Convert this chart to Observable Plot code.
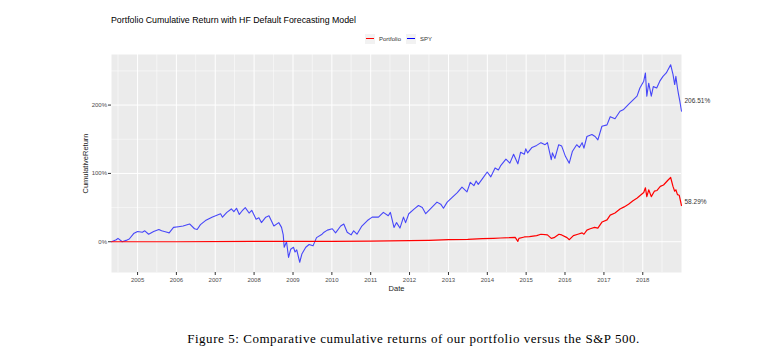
<!DOCTYPE html>
<html>
<head>
<meta charset="utf-8">
<script src="https://cdn.jsdelivr.net/npm/d3@7"></script>
<script src="https://cdn.jsdelivr.net/npm/@observablehq/plot@0.6"></script>
<style>
  body { margin: 0; background: #fff; }
  #wrap { position: relative; width: 775px; height: 357px; font-family: "Liberation Sans", Arial, sans-serif; overflow: hidden; }
  #wrap svg { position: absolute; left: 0; top: 0; }
  #title { position: absolute; left: 111px; top: 15px; font-size: 8.8px; color: #000; white-space: nowrap; }
  #legend { position: absolute; left: 365px; top: 33px; height: 11px; display: flex; align-items: center; font-size: 6px; color: #333; white-space: nowrap; }
  .key { width: 10px; height: 10px; background: #F2F2F2; position: relative; margin-right: 4px; }
  .key span { position: absolute; left: 1px; right: 1px; top: 4.5px; height: 1px; }
  .item { display: flex; align-items: center; margin-right: 5px; }
  #caption { position: absolute; left: 26px; top: 331px; width: 775px; text-align: center; font-family: "Liberation Serif", "Times New Roman", serif; font-size: 13px; letter-spacing: 0.55px; color: #000; white-space: nowrap; }
</style>
</head>
<body>
<div id="wrap">
  <div id="title"></div>
  <div id="legend"></div>
  <div id="caption"></div>
</div>
<script>
const titleText = "Portfolio Cumulative Return with HF Default Forecasting Model";
const captionText = "Figure 5: Comparative cumulative returns of our portfolio versus the S&P 500.";
const seriesNames = ["Portfolio", "SPY"];
const seriesColors = ["#FF0000", "#0000FF"];

const yMajor = [0, 1, 2];
const yMinor = [-0.5, 0.5, 1.5, 2.5];
const xYears = [2005, 2006, 2007, 2008, 2009, 2010, 2011, 2012, 2013, 2014, 2015, 2016, 2017, 2018];
const xMinorYears = [2004, 2005, 2006, 2007, 2008, 2009, 2010, 2011, 2012, 2013, 2014, 2015, 2016, 2017, 2018];

const spyDates = [
"2004-05-01","2004-06-15","2004-07-01","2004-08-10","2004-09-15","2004-10-15","2004-11-25","2005-01-01","2005-02-15","2005-03-10",
"2005-04-15","2005-06-01","2005-07-20","2005-08-15","2005-10-05","2005-10-25","2005-12-05","2006-01-20","2006-03-05","2006-05-05",
"2006-06-20","2006-07-15","2006-08-15","2006-10-01","2006-12-01","2007-02-20","2007-03-10","2007-04-20","2007-06-01","2007-06-25",
"2007-07-20","2007-08-15","2007-09-10","2007-10-10","2007-11-15","2007-12-10","2008-01-20","2008-02-15","2008-03-10","2008-04-20",
"2008-05-20","2008-07-05","2008-08-20","2008-09-15","2008-10-01","2008-10-10","2008-11-01","2008-11-20","2008-12-10","2009-01-05",
"2009-01-20","2009-02-05","2009-03-05","2009-03-25","2009-05-01","2009-06-01","2009-07-08","2009-08-10","2009-10-01","2009-10-20",
"2009-11-20","2010-01-05","2010-02-05","2010-03-25","2010-04-23","2010-05-25","2010-07-01","2010-07-25","2010-08-25","2010-10-10",
"2010-12-01","2011-01-15","2011-03-15","2011-04-30","2011-06-15","2011-07-05","2011-08-08","2011-09-01","2011-10-03","2011-11-05",
"2011-11-25","2011-12-25","2012-02-15","2012-03-25","2012-04-30","2012-06-01","2012-07-15","2012-09-15","2012-10-20","2012-11-15",
"2012-12-20","2013-02-05","2013-03-25","2013-05-08","2013-06-24","2013-07-25","2013-08-28","2013-09-18","2013-10-08","2013-11-15",
"2013-12-31","2014-02-03","2014-03-15","2014-04-15","2014-05-05","2014-06-25","2014-08-01","2014-09-05","2014-10-15","2014-11-10",
"2014-12-15","2014-12-28","2015-01-15","2015-02-25","2015-04-10","2015-05-20","2015-06-28","2015-07-20","2015-08-25","2015-09-05",
"2015-09-28","2015-11-03","2015-12-01","2015-12-15","2016-01-05","2016-02-10","2016-03-10","2016-04-20","2016-05-15","2016-06-10",
"2016-06-27","2016-07-25","2016-09-10","2016-10-10","2016-11-05","2016-12-13","2017-01-30","2017-03-01","2017-04-15","2017-06-01",
"2017-07-01","2017-08-20","2017-10-05","2017-11-08","2017-12-05","2018-01-10","2018-01-26","2018-02-08","2018-02-26","2018-03-22",
"2018-04-10","2018-05-12","2018-06-10","2018-07-10","2018-08-10","2018-09-20","2018-10-12","2018-10-28","2018-11-08","2018-11-23",
"2018-12-04","2018-12-15","2018-12-31"
];
const spyValues = [
0.00,0.03,0.05,0.00,0.02,0.04,0.12,0.15,0.14,0.16,
0.11,0.15,0.18,0.16,0.14,0.13,0.21,0.22,0.23,0.26,
0.19,0.18,0.25,0.31,0.36,0.41,0.36,0.43,0.48,0.44,
0.49,0.40,0.45,0.50,0.42,0.46,0.33,0.35,0.28,0.36,
0.38,0.23,0.28,0.21,0.10,-0.08,0.00,-0.23,-0.11,-0.08,
-0.15,-0.12,-0.30,-0.18,-0.08,-0.04,-0.06,0.06,0.11,0.14,
0.17,0.19,0.13,0.23,0.26,0.14,0.10,0.16,0.11,0.23,
0.31,0.36,0.36,0.43,0.38,0.43,0.21,0.28,0.20,0.36,
0.28,0.41,0.48,0.53,0.50,0.41,0.48,0.58,0.55,0.49,
0.58,0.65,0.72,0.80,0.73,0.87,0.82,0.89,0.84,0.92,
1.02,0.95,1.08,1.05,1.11,1.21,1.15,1.28,1.14,1.31,
1.28,1.36,1.30,1.38,1.41,1.45,1.42,1.45,1.20,1.30,
1.22,1.42,1.40,1.34,1.25,1.15,1.32,1.42,1.38,1.45,
1.37,1.54,1.57,1.54,1.49,1.69,1.71,1.83,1.80,1.91,
1.93,2.01,2.08,2.13,2.25,2.35,2.47,2.13,2.32,2.13,
2.27,2.25,2.35,2.42,2.47,2.59,2.45,2.30,2.42,2.25,
2.15,2.06,1.91
];

const portDates = [
"2004-05-01","2006-01-01","2008-01-01","2010-01-01","2011-01-01","2012-01-01","2012-07-01","2013-01-01","2013-07-01","2013-11-15",
"2014-03-01","2014-05-05","2014-08-01","2014-09-20","2014-10-15","2014-10-25","2014-12-15","2015-02-01","2015-04-10","2015-05-20",
"2015-07-20","2015-08-25","2015-09-20","2015-11-05","2015-12-01","2016-01-20","2016-02-11","2016-03-20","2016-05-01","2016-06-10",
"2016-06-27","2016-07-25","2016-08-25","2016-10-05","2016-11-05","2016-12-15","2017-01-30","2017-03-01","2017-04-15","2017-06-01",
"2017-07-10","2017-08-20","2017-10-01","2017-11-10","2017-12-10","2018-01-10","2018-01-26","2018-02-08","2018-02-26","2018-03-22",
"2018-04-20","2018-05-15","2018-06-15","2018-07-15","2018-08-25","2018-09-20","2018-10-12","2018-10-28","2018-11-08","2018-11-23",
"2018-12-10","2018-12-31"
];
const portValues = [
0.000,0.000,0.005,0.005,0.010,0.015,0.020,0.030,0.035,0.045,
0.050,0.055,0.060,0.065,0.005,0.050,0.070,0.075,0.090,0.110,
0.100,0.050,0.060,0.110,0.100,0.060,0.030,0.090,0.110,0.130,
0.110,0.170,0.190,0.210,0.200,0.290,0.320,0.390,0.420,0.480,
0.510,0.550,0.600,0.640,0.680,0.720,0.790,0.660,0.760,0.660,
0.740,0.750,0.810,0.830,0.900,0.940,0.810,0.740,0.760,0.690,
0.680,0.530
];

const endValues = [0.5829, 2.0651];
const endDate = "2018-12-31";

// build tables
const data = [
  ...portDates.map((d, i) => ({date: new Date(d), value: portValues[i], series: seriesNames[0]})),
  ...spyDates.map((d, i) => ({date: new Date(d), value: spyValues[i], series: seriesNames[1]}))
];
const ends = endValues.map((v, i) => ({date: new Date(endDate), value: v, series: seriesNames[i]}));
const xMajor = xYears.map(y => new Date(Date.UTC(y, 0, 1)));
const xMinor = xMinorYears.map(y => new Date(Date.UTC(y, 6, 1)));
const pct = d3.format(".0%");

const chart = Plot.plot({
  width: 775,
  height: 357,
  marginLeft: 111,
  marginRight: 94,
  marginTop: 54,
  marginBottom: 85,
  style: {fontFamily: "Liberation Sans, Arial, sans-serif", fontSize: "6px", color: "#4D4D4D", background: "transparent"},
  x: {type: "utc", domain: [new Date("2004-05-01"), new Date("2018-12-31")]},
  y: {domain: [-0.45, 2.74]},
  color: {domain: seriesNames, range: seriesColors},
  marks: [
    Plot.frame({fill: "#EBEBEB", stroke: null}),
    Plot.gridY(yMinor, {stroke: "#fff", strokeOpacity: 1, strokeWidth: 0.5}),
    Plot.gridX(xMinor, {stroke: "#fff", strokeOpacity: 1, strokeWidth: 0.5}),
    Plot.gridY(yMajor, {stroke: "#fff", strokeOpacity: 1, strokeWidth: 1}),
    Plot.gridX(xMajor, {stroke: "#fff", strokeOpacity: 1, strokeWidth: 1}),
    Plot.axisY(yMajor, {tickFormat: pct, tickSize: 3, tickPadding: 1.5, stroke: "#333", fill: "#4D4D4D",
      label: "CumulativeReturn", labelAnchor: "center", labelArrow: "none", labelOffset: 29}),
    Plot.axisX(xMajor, {tickFormat: d => String(d.getUTCFullYear()), tickSize: 3, tickPadding: 2, stroke: "#333", fill: "#4D4D4D",
      label: "Date", labelAnchor: "center", labelArrow: "none", labelOffset: 18}),
    Plot.lineY(data.filter(d => d.series === "SPY"), {x: "date", y: "value", stroke: "series", strokeWidth: 1.1, strokeOpacity: 0.7}),
    Plot.lineY(data.filter(d => d.series === "Portfolio"), {x: "date", y: "value", stroke: "series", strokeWidth: 1.2}),
    Plot.text(ends, {x: "date", y: "value", text: d => d3.format(".2f")(d.value * 100) + "%", textAnchor: "start", dx: 3, fill: "#333", fontSize: 6.5})
  ]
});

const wrap = document.getElementById("wrap");
wrap.insertBefore(chart, wrap.firstChild);
d3.select(chart).selectAll('[aria-label="y-axis label"] text, [aria-label="x-axis label"] text')
  .style("font-size", "7.5px").attr("fill", "#222");

document.getElementById("title").textContent = titleText;
document.getElementById("caption").textContent = captionText;
const legend = d3.select("#legend");
seriesNames.forEach((name, i) => {
  const item = legend.append("div").attr("class", "item");
  item.append("div").attr("class", "key").append("span").style("background", seriesColors[i]);
  item.append("div").text(name);
});
</script>
</body>
</html>
